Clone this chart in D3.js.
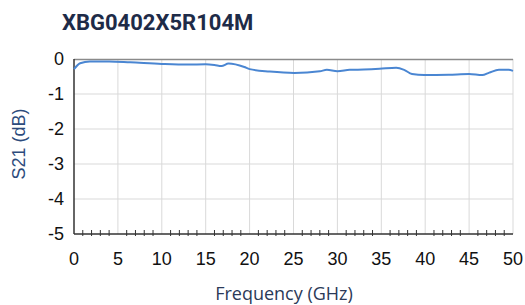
<!DOCTYPE html>
<html>
<head>
<style type="text/css">
body { margin: 0; background: #fff; }
.grid line { stroke: #d9d9d9; stroke-width: 1; }
.line { fill: none; stroke: #4a86d2; stroke-width: 2; }
.tick-lbl { font-family: "Liberation Sans", Arial, sans-serif; font-size: 18px; fill: #111; }
</style>
<script type="text/javascript" src="https://cdn.jsdelivr.net/npm/d3@7"></script>
</head>
<body>
<script>
// data
var freq = [0, 0.7, 1.8, 4, 6.4, 10, 13, 15, 16.0, 16.8, 17.6, 19.4, 20, 22.3, 25.1, 28, 28.8, 30, 31.4, 33, 34.8, 36.7, 37.6, 38.5, 39.9, 42.7, 45, 46.5, 47.3, 48.4, 49.5, 50];
var s21 = [-0.29, -0.12, -0.07, -0.07, -0.095, -0.14, -0.16, -0.15, -0.17, -0.2, -0.13, -0.23, -0.29, -0.36, -0.4, -0.35, -0.31, -0.35, -0.31, -0.3, -0.28, -0.25, -0.31, -0.43, -0.46, -0.45, -0.43, -0.46, -0.39, -0.31, -0.31, -0.34];
var xTicks = [0, 5, 10, 15, 20, 25, 30, 35, 40, 45, 50];
var yTicks = [0, -1, -2, -3, -4, -5];

var W = 525, H = 305;
// plot box (window.top is reserved, so use pTop etc.)
var pLeft = 74, pRight = 513, pTop = 59, pBottom = 234;

var x = d3.scaleLinear().domain([0, 50]).range([pLeft, pRight]);
var y = d3.scaleLinear().domain([-5, 0]).range([pBottom, pTop]);

var svg = d3.select("body").append("svg")
    .attr("width", W)
    .attr("height", H);

// title
svg.append("text")
    .attr("x", 62).attr("y", 30)
    .style("font-family", "Roboto, sans-serif")
    .style("font-weight", "bold")
    .style("font-size", "22px")
    .style("fill", "#1e2b48")
    .text("XBG0402X5R104M");

// grid
var grid = svg.append("g").attr("class", "grid");
grid.selectAll(".vx").data(xTicks.slice(1)).enter().append("line")
    .attr("x1", function(d) { return x(d); }).attr("x2", function(d) { return x(d); })
    .attr("y1", pTop).attr("y2", pBottom);
grid.selectAll(".hy").data(yTicks.slice(1, -1)).enter().append("line")
    .attr("x1", pLeft).attr("x2", pRight)
    .attr("y1", function(d) { return y(d); }).attr("y2", function(d) { return y(d); });

// top border
svg.append("line")
    .attr("x1", pLeft).attr("x2", pRight).attr("y1", pTop + 0.5).attr("y2", pTop + 0.5)
    .style("stroke", "#8a8a8a").style("stroke-width", 1.5);

// left + bottom axis lines
svg.append("line")
    .attr("x1", pLeft).attr("x2", pLeft).attr("y1", pTop).attr("y2", pBottom)
    .style("stroke", "#333").style("stroke-width", 1.5);
svg.append("line")
    .attr("x1", pLeft).attr("x2", pRight).attr("y1", pBottom).attr("y2", pBottom)
    .style("stroke", "#333").style("stroke-width", 1.5);

// minor ticks on bottom axis
var minor = d3.range(1, 50).filter(function(d) { return d % 5 !== 0; });
svg.selectAll(".mt").data(minor).enter().append("line")
    .attr("x1", function(d) { return x(d); }).attr("x2", function(d) { return x(d); })
    .attr("y1", pBottom - 4).attr("y2", pBottom + 2)
    .style("stroke", "#333").style("stroke-width", 1);

// tick labels
svg.selectAll(".xl").data(xTicks).enter().append("text")
    .attr("class", "tick-lbl")
    .attr("x", function(d) { return x(d); })
    .attr("y", 265)
    .attr("text-anchor", "middle")
    .text(function(d) { return d; });
svg.selectAll(".yl").data(yTicks).enter().append("text")
    .attr("class", "tick-lbl")
    .attr("x", 64)
    .attr("y", function(d) { return y(d) + 6; })
    .attr("text-anchor", "end")
    .text(function(d) { return d === 0 ? "0" : "-" + Math.abs(d); });

// axis titles
svg.append("text")
    .attr("x", 284).attr("y", 300)
    .attr("text-anchor", "middle")
    .style("font-family", "'Open Sans', sans-serif")
    .style("font-size", "18px")
    .style("fill", "#2b3a58")
    .text("Frequency (GHz)");
svg.append("text")
    .attr("transform", "translate(25,144) rotate(-90)")
    .attr("text-anchor", "middle")
    .style("font-family", "'Liberation Sans', Arial, sans-serif")
    .style("font-size", "18px")
    .style("fill", "#2c4b7c")
    .text("S21 (dB)");

// curve
var line = d3.line()
    .x(function(d, i) { return x(freq[i]); })
    .y(function(d) { return y(d); })
    .curve(d3.curveMonotoneX);
svg.append("path")
    .datum(s21)
    .attr("class", "line")
    .attr("d", line);
</script>
</body>
</html>
